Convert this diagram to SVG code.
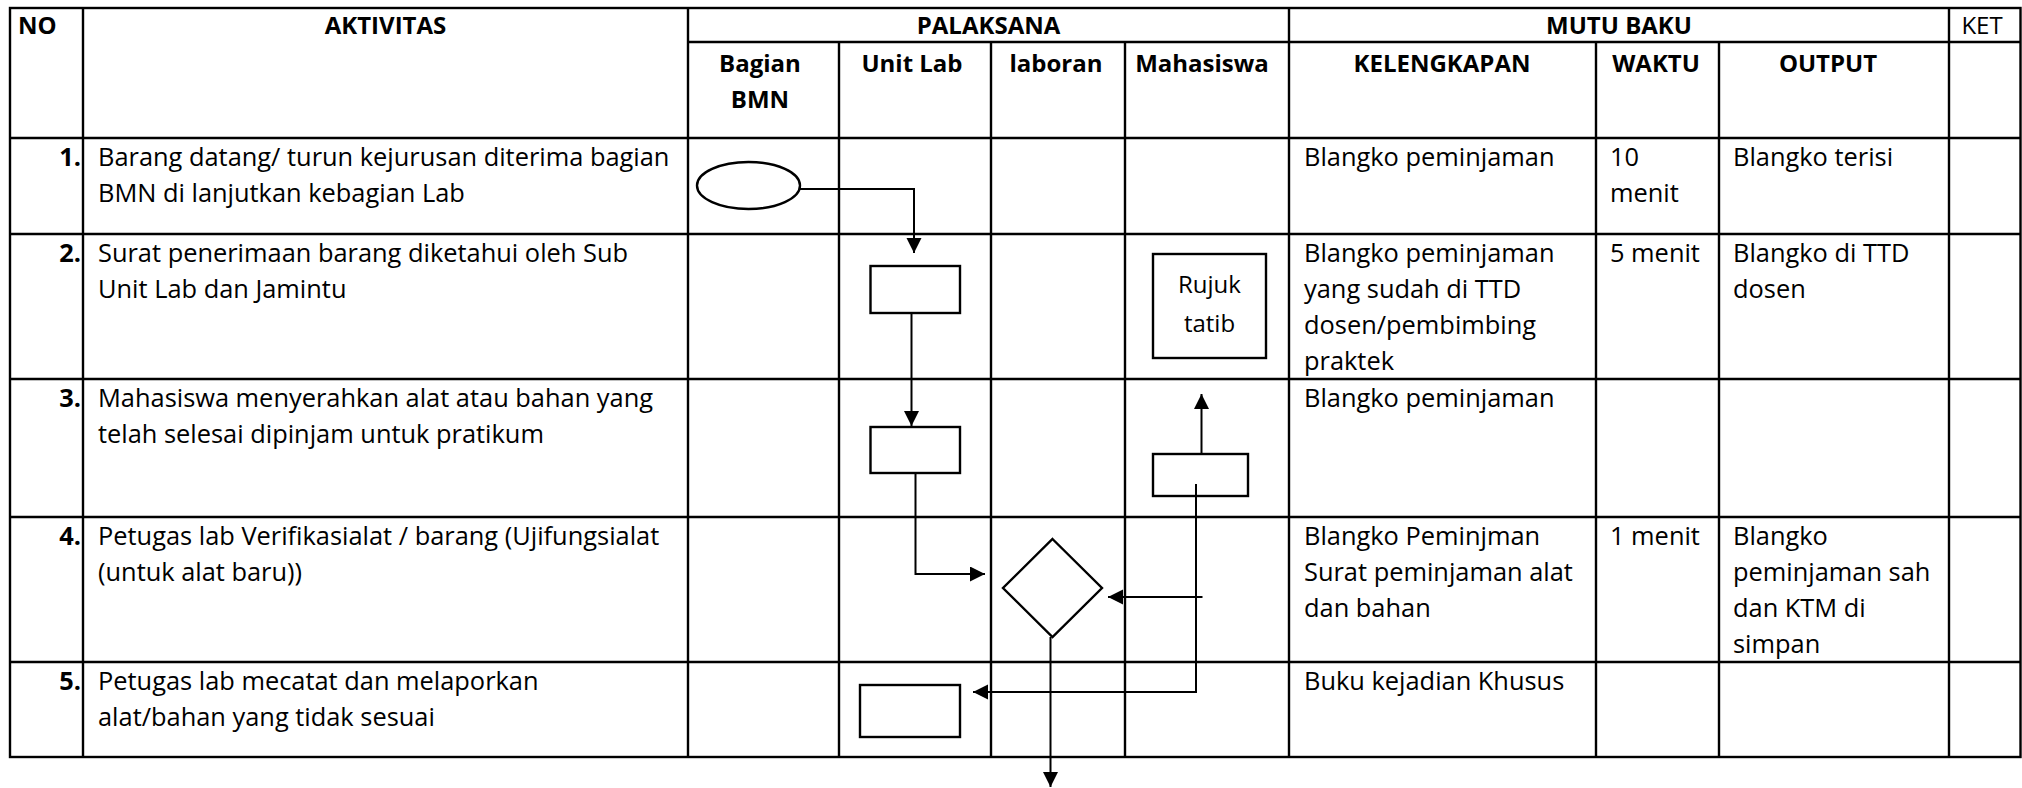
<svg xmlns="http://www.w3.org/2000/svg" width="2022" height="788" viewBox="0 0 2022 788">
<style>
.grid{stroke:#000;stroke-width:2.4;fill:none}
.shape{stroke:#000;stroke-width:2.4;fill:#fff}
.conn{stroke:#000;stroke-width:2;fill:none}
text{font-family:"Open Sans","Noto Sans","Liberation Sans",sans-serif;fill:#000}
.h{font-size:24px;font-weight:bold}
.hc{font-size:24px;font-weight:bold;text-anchor:middle}
.b{font-size:25.4px}
.n{font-size:25.4px;font-weight:bold;text-anchor:end}
.r{font-size:24px;text-anchor:middle}
</style>
<defs>
<marker id="arr" markerUnits="userSpaceOnUse" markerWidth="16" markerHeight="16" refX="15" refY="7.5" orient="auto" viewBox="0 0 16 16">
<path d="M0,0 L15,7.5 L0,15 z" fill="#000"/>
</marker>
</defs>
<rect width="2022" height="788" fill="#fff"/>
<g id="table">
<rect class="grid" x="10" y="8" width="2010.5" height="749"/>
<path class="grid" d="M83 8V757 M688 8V757 M839 42V757 M991 42V757 M1125 42V757 M1289 8V757 M1596 42V757 M1719 42V757 M1949 8V757 M688 42H2021 M10 138H2021 M10 234H2021 M10 379H2021 M10 517H2021 M10 662H2021"/>
<text class="h" x="18" y="34">NO</text>
<text class="hc" x="385.5" y="34">AKTIVITAS</text>
<text class="hc" x="988.5" y="34">PALAKSANA</text>
<text class="hc" x="1619" y="34">MUTU BAKU</text>
<text class="r" x="1982" y="34">KET</text>
<text class="hc" x="760" y="72">Bagian</text>
<text class="hc" x="760" y="108">BMN</text>
<text class="hc" x="912" y="72">Unit Lab</text>
<text class="hc" x="1056" y="72">laboran</text>
<text class="hc" x="1202" y="72">Mahasiswa</text>
<text class="hc" x="1442" y="72">KELENGKAPAN</text>
<text class="hc" x="1656" y="72">WAKTU</text>
<text class="hc" x="1828" y="72">OUTPUT</text>
<text class="n" x="81" y="166">1.</text>
<text class="b" x="98" y="166">Barang datang/ turun kejurusan diterima bagian</text>
<text class="b" x="98" y="202">BMN di lanjutkan kebagian Lab</text>
<text class="n" x="81" y="262">2.</text>
<text class="b" x="98" y="262">Surat penerimaan barang diketahui oleh Sub</text>
<text class="b" x="98" y="298">Unit Lab dan Jamintu</text>
<text class="n" x="81" y="407">3.</text>
<text class="b" x="98" y="407">Mahasiswa menyerahkan alat atau bahan yang</text>
<text class="b" x="98" y="443">telah selesai dipinjam untuk pratikum</text>
<text class="n" x="81" y="545">4.</text>
<text class="b" x="98" y="545">Petugas lab Verifikasialat / barang (Ujifungsialat</text>
<text class="b" x="98" y="581">(untuk alat baru))</text>
<text class="n" x="81" y="690">5.</text>
<text class="b" x="98" y="690">Petugas lab mecatat dan melaporkan</text>
<text class="b" x="98" y="726">alat/bahan yang tidak sesuai</text>
<text class="b" x="1304" y="166">Blangko peminjaman</text>
<text class="b" x="1304" y="262">Blangko peminjaman</text>
<text class="b" x="1304" y="298">yang sudah di TTD</text>
<text class="b" x="1304" y="334">dosen/pembimbing</text>
<text class="b" x="1304" y="370">praktek</text>
<text class="b" x="1304" y="407">Blangko peminjaman</text>
<text class="b" x="1304" y="545">Blangko Peminjman</text>
<text class="b" x="1304" y="581">Surat peminjaman alat</text>
<text class="b" x="1304" y="617">dan bahan</text>
<text class="b" x="1304" y="690">Buku kejadian Khusus</text>
<text class="b" x="1610" y="166">10</text>
<text class="b" x="1610" y="202">menit</text>
<text class="b" x="1610" y="262">5 menit</text>
<text class="b" x="1610" y="545">1 menit</text>
<text class="b" x="1733" y="166">Blangko terisi</text>
<text class="b" x="1733" y="262">Blangko di TTD</text>
<text class="b" x="1733" y="298">dosen</text>
<text class="b" x="1733" y="545">Blangko</text>
<text class="b" x="1733" y="581">peminjaman sah</text>
<text class="b" x="1733" y="617">dan KTM di</text>
<text class="b" x="1733" y="653">simpan</text>
</g>
<g id="connectors">
<path class="conn" d="M800 189H914V253" marker-end="url(#arr)"/>
<path class="conn" d="M911.5 313V426" marker-end="url(#arr)"/>
<path class="conn" d="M915.5 473V574H985" marker-end="url(#arr)"/>
<path class="conn" d="M1201.5 454V394" marker-end="url(#arr)"/>
<path class="conn" d="M1202.5 597H1108" marker-end="url(#arr)"/>
<path class="conn" d="M1196 484V692H973" marker-end="url(#arr)"/>
<path class="conn" d="M1050.5 637V787" marker-end="url(#arr)"/>
</g>
<g id="start">
<ellipse class="shape" cx="748.5" cy="185.5" rx="51.5" ry="23.5"/>
</g>
<g id="process1">
<rect class="shape" x="870.5" y="266" width="89.5" height="47"/>
</g>
<g id="process2">
<rect class="shape" x="870.5" y="427" width="89.5" height="46"/>
</g>
<g id="rujuk">
<rect class="shape" x="1153" y="254" width="113" height="104"/>
<text class="r" x="1209.5" y="293">Rujuk</text>
<text class="r" x="1209.5" y="332">tatib</text>
</g>
<g id="process3">
<rect class="shape" x="1153" y="454" width="95" height="42" fill="none" style="fill:none"/>
</g>
<g id="decision">
<polygon class="shape" points="1052.5,539 1102,588 1052.5,637 1003,588"/>
</g>
<g id="process4">
<rect class="shape" x="860" y="685" width="100" height="52"/>
</g>
</svg>
